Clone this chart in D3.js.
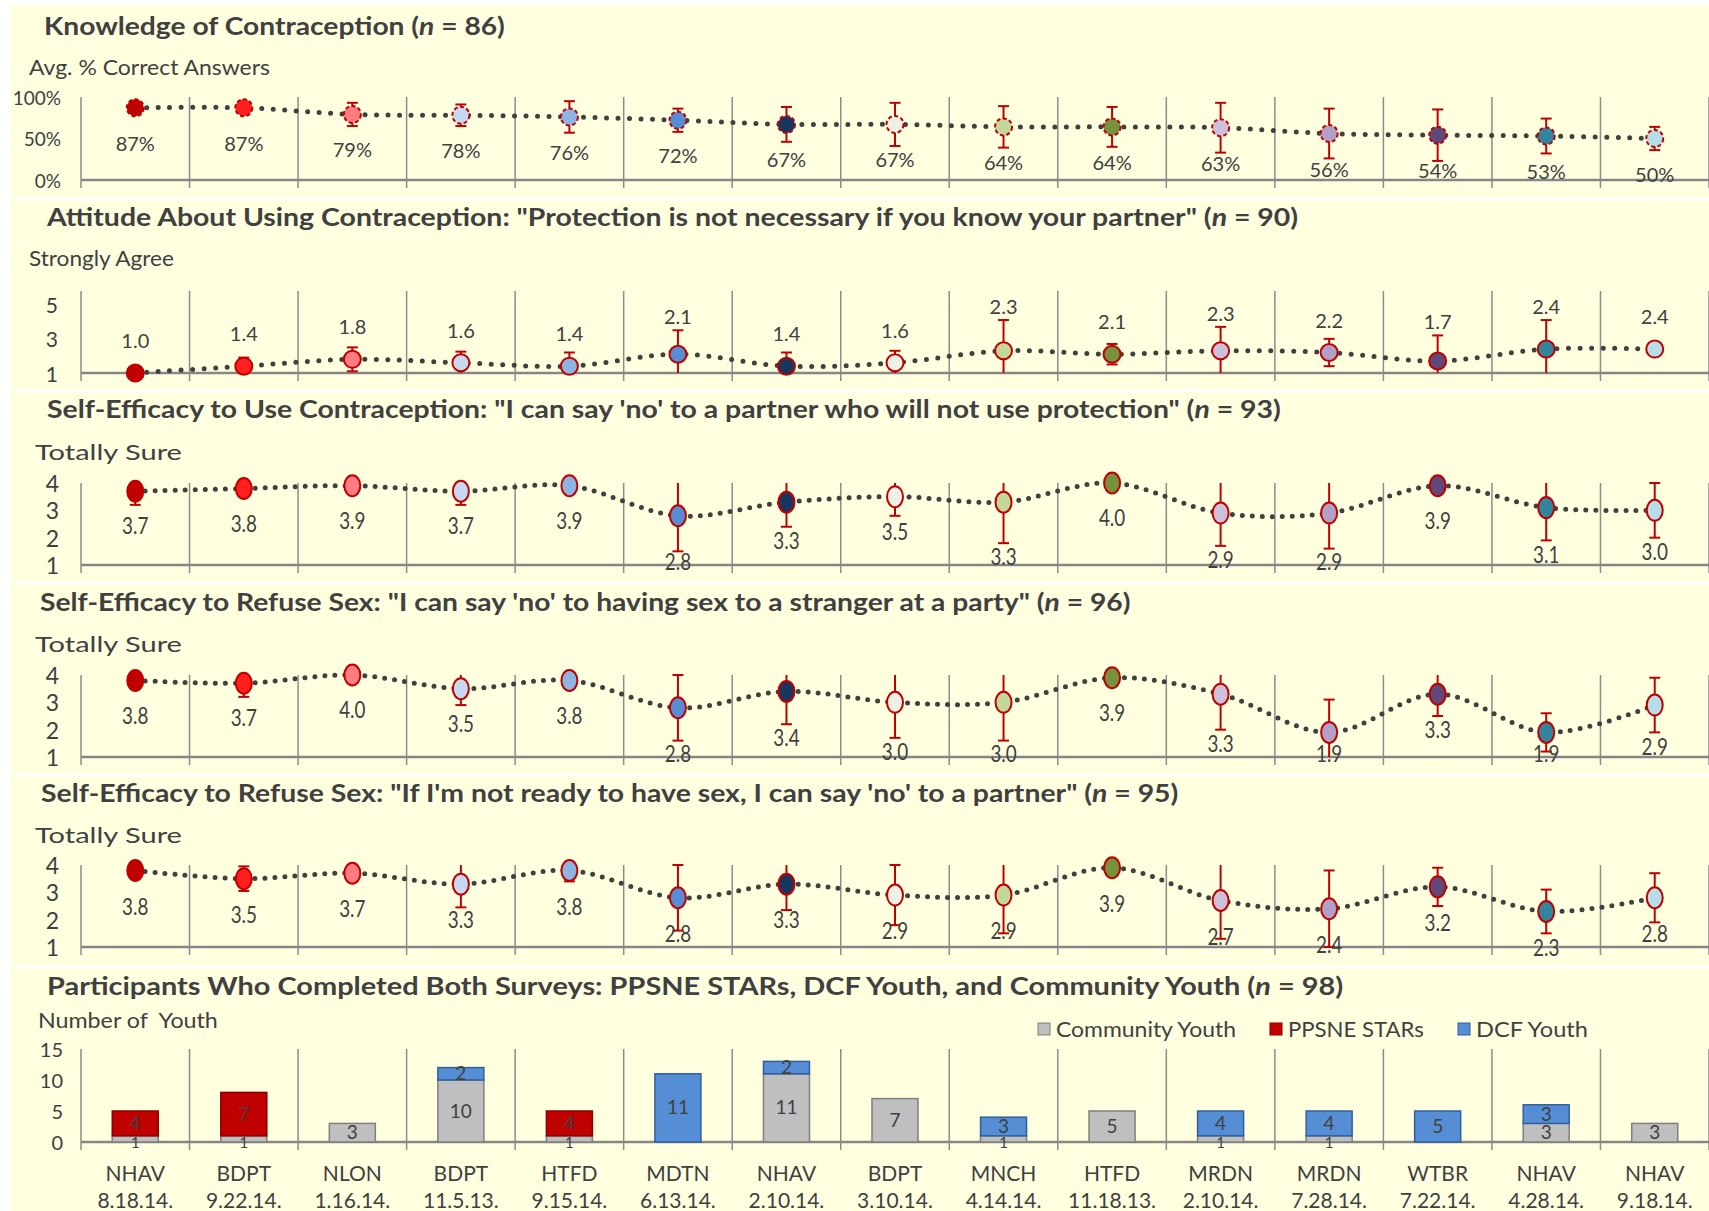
<!DOCTYPE html>
<html>
<head>
<meta charset="utf-8">
<script src="https://cdn.jsdelivr.net/npm/d3@7"></script>
<style>
body { margin: 0; background: #fff; }
svg text { font-family: Lato, 'Open Sans', sans-serif; fill: #404040; white-space: pre; }
</style>
</head>
<body>
<div id="chart"></div>
<script>
// categories
var sites = ['NHAV', 'BDPT', 'NLON', 'BDPT', 'HTFD', 'MDTN', 'NHAV', 'BDPT', 'MNCH', 'HTFD', 'MRDN', 'MRDN', 'WTBR', 'NHAV', 'NHAV'];
var dates = ['8.18.14.', '9.22.14.', '1.16.14.', '11.5.13.', '9.15.14.', '6.13.14.', '2.10.14.', '3.10.14.', '4.14.14.', '11.18.13.', '2.10.14.', '7.28.14.', '7.22.14.', '4.28.14.', '9.18.14.'];
var markerColors = ['#c00000', '#ff1f1f', '#ff7c80', '#c5d9f1', '#8db4e2', '#558ed5', '#17375e', '#eef0e6', '#c4d79b', '#76923c', '#ccc0da', '#b1a0c7', '#60497a', '#31859c', '#b7dee8'];

// series
var knowledgeAvg = [87, 87, 79, 78, 76, 72, 67, 67, 64, 64, 63, 56, 54, 53, 50];
var knowledgeErr = [0, 0, 14, 13, 19, 14, 21, 26, 25, 24, 30, 30, 31, 21, 14];
var attitudeAvg = [1.0, 1.4, 1.8, 1.6, 1.4, 2.1, 1.4, 1.6, 2.3, 2.1, 2.3, 2.2, 1.7, 2.4, 2.4];
var attitudeErr = [0, 0.5, 0.7, 0.65, 0.8, 1.4, 0.8, 0.7, 1.8, 0.6, 1.4, 0.8, 1.5, 1.7, 0];
var protectAvg = [3.7, 3.8, 3.9, 3.7, 3.9, 2.8, 3.3, 3.5, 3.3, 4.0, 2.9, 2.9, 3.9, 3.1, 3.0];
var protectErr = [0.5, 0.2, 0.1, 0.5, 0.1, 1.3, 0.9, 0.7, 1.5, 0, 1.2, 1.3, 0.25, 1.2, 1.0];
var strangerAvg = [3.8, 3.7, 4.0, 3.5, 3.8, 2.8, 3.4, 3.0, 3.0, 3.9, 3.3, 1.9, 3.3, 1.9, 2.9];
var strangerErr = [0.25, 0.5, 0, 0.6, 0.25, 1.2, 1.2, 1.3, 1.4, 0.25, 1.3, 1.2, 0.8, 0.7, 1.0];
var notReadyAvg = [3.8, 3.5, 3.7, 3.3, 3.8, 2.8, 3.3, 2.9, 2.9, 3.9, 2.7, 2.4, 3.2, 2.3, 2.8];
var notReadyErr = [0, 0.45, 0.3, 0.85, 0.4, 1.2, 0.95, 1.1, 1.4, 0, 1.4, 1.4, 0.7, 0.8, 0.9];
var communityYouth = [1, 1, 3, 10, 1, 0, 11, 7, 1, 5, 1, 1, 0, 3, 3];
var ppsneStars = [4, 7, 0, 0, 4, 0, 0, 0, 0, 0, 0, 0, 0, 0, 0];
var dcfYouth = [0, 0, 0, 2, 0, 11, 2, 0, 3, 0, 4, 4, 5, 3, 0];
var groupNames = ['Community Youth', 'PPSNE STARs', 'DCF Youth'];

var width = 1709, height = 1211;
var red = '#c00000', dark = '#404040', grid = '#8c8c8c';

var svg = d3.select('#chart').append('svg')
    .attr('width', width)
    .attr('height', height);

// yellow panels
var bands = [[5, 197], [200, 389], [392, 581], [584, 773], [776, 965], [968, 1211]];
svg.selectAll('.panel').data(bands).enter().append('rect')
    .attr('x', 10).attr('y', function(d) { return d[0]; })
    .attr('width', width - 10).attr('height', function(d) { return d[1] - d[0]; })
    .style('fill', '#ffffe0');

var x = d3.scaleBand().domain(d3.range(sites.length)).range([81, 1709]);
function cx(i) { return x(i) + x.bandwidth() / 2; }
function edge(i) { return x.range()[0] + i * x.step(); }

function fit(sel, w) {
    var x0 = +sel.attr('x');
    var len = sel.node().getBBox().width;
    sel.attr('transform', 'translate(' + x0 + ',0) scale(' + (w / len) + ',1) translate(' + (-x0) + ',0)');
}

function title(before, n, y, x0, w) {
    var t = svg.append('text').attr('x', x0).attr('y', y)
        .style('font-size', '24.5px').style('font-weight', 'bold');
    t.append('tspan').text(before + '(');
    t.append('tspan').style('font-style', 'italic').text('n');
    t.append('tspan').text(' = ' + n + ')');
    fit(t, w);
}

function subtitle(txt, y, x0, w) {
    var t = svg.append('text').attr('x', x0).attr('y', y)
        .style('font-size', '21px').text(txt);
    fit(t, w);
}

function linePanel(p) {
    var y = d3.scaleLinear().domain(p.domain).range(p.range);
    var g = svg.append('g');
    var dmin = p.domain[0], dmax = p.domain[1];

    g.selectAll('.grid').data(d3.range(sites.length + 1)).enter().append('line')
        .attr('x1', edge).attr('x2', edge)
        .attr('y1', y(dmax)).attr('y2', y(dmin) + 8)
        .style('stroke', grid).style('stroke-width', 1.5);
    g.append('line')
        .attr('x1', edge(0)).attr('x2', edge(sites.length))
        .attr('y1', y(dmin)).attr('y2', y(dmin))
        .style('stroke', '#868686').style('stroke-width', 2.5);

    g.selectAll('.tick').data(p.ticks).enter().append('text')
        .attr('x', p.tickX).attr('y', function(d) { return y(d); })
        .attr('text-anchor', 'end').attr('dominant-baseline', 'central')
        .style('font-size', p.tickSize)
        .text(p.tickFmt);

    var line = d3.line()
        .x(function(d, i) { return cx(i); })
        .y(function(d) { return y(d); })
        .curve(d3.curveCatmullRom.alpha(0));
    g.append('path').datum(p.avg)
        .attr('d', line)
        .style('fill', 'none').style('stroke', dark)
        .style('stroke-width', 5).style('stroke-linecap', 'round')
        .style('stroke-dasharray', p.dots);

    // error bars, clipped at the axis limits
    p.avg.forEach(function(v, i) {
        var e = p.err[i];
        if (!e) return;
        var lo = Math.max(v - e, dmin), hi = Math.min(v + e, dmax);
        g.append('line').attr('x1', cx(i)).attr('x2', cx(i))
            .attr('y1', y(lo)).attr('y2', y(hi))
            .style('stroke', red).style('stroke-width', 2);
        if (v + e <= dmax) {
            g.append('line').attr('x1', cx(i) - 5.5).attr('x2', cx(i) + 5.5)
                .attr('y1', y(hi)).attr('y2', y(hi))
                .style('stroke', red).style('stroke-width', 2);
        }
        if (v - e >= dmin) {
            g.append('line').attr('x1', cx(i) - 5.5).attr('x2', cx(i) + 5.5)
                .attr('y1', y(lo)).attr('y2', y(lo))
                .style('stroke', red).style('stroke-width', 2);
        }
    });

    g.selectAll('.mark').data(p.avg).enter().append('ellipse')
        .attr('cx', function(d, i) { return cx(i); })
        .attr('cy', function(d) { return y(d); })
        .attr('rx', p.rx).attr('ry', p.ry)
        .style('fill', function(d, i) { return markerColors[i]; })
        .style('stroke', red).style('stroke-width', 2)
        .style('stroke-dasharray', p.dashed ? '4 2.5' : null);

    g.selectAll('.val').data(p.avg).enter().append('text')
        .attr('transform', function(d, i) {
            return 'translate(' + cx(i) + ',' + p.labelY(d, p.err[i], y) + ') scale(' + p.squeeze + ',1)';
        })
        .attr('text-anchor', 'middle').attr('dominant-baseline', 'central')
        .style('font-size', p.valSize)
        .text(p.valFmt);
}

// panel 1
title('Knowledge of Contraception ', 86, 35, 44, 461);
subtitle('Avg. % Correct Answers', 75, 29, 241);
linePanel({
    avg: knowledgeAvg, err: knowledgeErr, domain: [0, 100], range: [180, 97],
    ticks: [0, 50, 100], tickFmt: function(d) { return d + '%'; }, tickX: 61, tickSize: '19px',
    dots: '0 11.5', rx: 8.5, ry: 8.5, dashed: true, squeeze: 1, valSize: '20px',
    valFmt: function(d) { return d + '%'; },
    labelY: function(v, e, y) { return y(v) + 35; }
});

// panel 2
title('Attitude About Using Contraception: "Protection is not necessary if you know your partner" ', 90, 226, 47, 1253);
subtitle('Strongly Agree', 266, 29, 145);
linePanel({
    avg: attitudeAvg, err: attitudeErr, domain: [1, 5.8], range: [373, 291],
    ticks: [1, 3, 5], tickFmt: function(d) { return d; }, tickX: 58, tickSize: '21px',
    dots: '0 11.5', rx: 8.5, ry: 8.5, dashed: false, squeeze: 1, valSize: '20px',
    valFmt: function(d) { return d.toFixed(1); },
    labelY: function(v, e, y) { return Math.min(y(v) - 33, y(Math.min(v + e, 5.8)) - 14); }
});

// labels under the point, pushed below the error bar but kept at the axis
var lowerLabel = function(v, e, y) {
    return Math.min(Math.max(y(v) + 34, y(Math.max(v - e, 1)) + 13), y(1) - 4);
};

// panel 3
title('Self-Efficacy to Use Contraception: "I can say \'no\' to a partner who will not use protection" ', 93, 418, 47, 1234);
subtitle('Totally Sure', 460, 35, 147);
linePanel({
    avg: protectAvg, err: protectErr, domain: [1, 4], range: [565, 483],
    ticks: [1, 2, 3, 4], tickFmt: function(d) { return d; }, tickX: 59, tickSize: '23px',
    dots: '0 10', rx: 8, ry: 10.5, dashed: false, squeeze: 0.82, valSize: '23px',
    valFmt: function(d) { return d.toFixed(1); },
    labelY: lowerLabel
});

// panel 4
title('Self-Efficacy to Refuse Sex: "I can say \'no\' to having sex to a stranger at a party" ', 96, 611, 40, 1091);
subtitle('Totally Sure', 652, 35, 147);
linePanel({
    avg: strangerAvg, err: strangerErr, domain: [1, 4], range: [757, 675],
    ticks: [1, 2, 3, 4], tickFmt: function(d) { return d; }, tickX: 59, tickSize: '23px',
    dots: '0 10', rx: 8, ry: 10.5, dashed: false, squeeze: 0.82, valSize: '23px',
    valFmt: function(d) { return d.toFixed(1); },
    labelY: lowerLabel
});

// panel 5
title('Self-Efficacy to Refuse Sex: "If I\'m not ready to have sex, I can say \'no\' to a partner" ', 95, 802, 41, 1138);
subtitle('Totally Sure', 843, 35, 147);
linePanel({
    avg: notReadyAvg, err: notReadyErr, domain: [1, 4], range: [947, 865],
    ticks: [1, 2, 3, 4], tickFmt: function(d) { return d; }, tickX: 59, tickSize: '23px',
    dots: '0 10', rx: 8, ry: 10.5, dashed: false, squeeze: 0.82, valSize: '23px',
    valFmt: function(d) { return d.toFixed(1); },
    labelY: function(v, e, y) { return y(v) + 35; }
});

// panel 6 - stacked bars
title('Participants Who Completed Both Surveys: PPSNE STARs, DCF Youth, and Community Youth ', 98, 995, 47, 1297);
subtitle('Number of  Youth', 1028, 38, 180);

var yb = d3.scaleLinear().domain([0, 15]).range([1142, 1049]);
var gb = svg.append('g');
gb.selectAll('.grid').data(d3.range(sites.length + 1)).enter().append('line')
    .attr('x1', edge).attr('x2', edge)
    .attr('y1', yb(15)).attr('y2', yb(0) + 8)
    .style('stroke', grid).style('stroke-width', 1.5);
gb.append('line')
    .attr('x1', edge(0)).attr('x2', edge(sites.length))
    .attr('y1', yb(0)).attr('y2', yb(0))
    .style('stroke', '#868686').style('stroke-width', 2.5);
gb.selectAll('.tick').data([0, 5, 10, 15]).enter().append('text')
    .attr('x', 63).attr('y', function(d) { return yb(d); })
    .attr('text-anchor', 'end').attr('dominant-baseline', 'central')
    .style('font-size', '20px')
    .text(function(d) { return d; });

var table = sites.map(function(s, i) {
    return { i: i, c: communityYouth[i], p: ppsneStars[i], d: dcfYouth[i] };
});
var stack = d3.stack().keys(['c', 'p', 'd'])(table);
var fills = ['#bfbfbf', '#c00000', '#558ed5'];
var strokes = ['#7f7f7f', '#8b0000', '#2f5f9f'];
var bw = 46;
stack.forEach(function(layer, k) {
    gb.selectAll('.bar' + k).data(layer.filter(function(d) { return d[1] > d[0]; })).enter().append('rect')
        .attr('x', function(d) { return cx(d.data.i) - bw / 2; })
        .attr('y', function(d) { return yb(d[1]); })
        .attr('width', bw)
        .attr('height', function(d) { return yb(d[0]) - yb(d[1]); })
        .style('fill', fills[k]).style('stroke', strokes[k]).style('stroke-width', 1.5);
});
// segment labels; the thin one-youth slices get a smaller label nearer the axis
stack.forEach(function(layer, k) {
    gb.selectAll('.lab' + k).data(layer.filter(function(d) { return d[1] > d[0]; })).enter().append('text')
        .attr('x', function(d) { return cx(d.data.i); })
        .attr('y', function(d) {
            var mid = yb((d[0] + d[1]) / 2);
            return (d[1] - d[0] < 2) ? mid + 3 : mid - 1;
        })
        .attr('text-anchor', 'middle').attr('dominant-baseline', 'central')
        .style('font-size', function(d) { return (d[1] - d[0] < 2) ? '15px' : '19px'; })
        .text(function(d) { return d[1] - d[0]; });
});

// legend
var legendX = [1038, 1270, 1458];
var legendW = [180, 136, 112];
groupNames.forEach(function(name, k) {
    gb.append('rect').attr('x', legendX[k]).attr('y', 1023).attr('width', 12).attr('height', 12)
        .style('fill', fills[k]).style('stroke', strokes[k]);
    var t = gb.append('text').attr('x', legendX[k] + 18).attr('y', 1029)
        .attr('dominant-baseline', 'central').style('font-size', '21px').text(name);
    fit(t, legendW[k]);
});

// x labels
gb.selectAll('.site').data(sites).enter().append('text')
    .attr('x', function(d, i) { return cx(i); }).attr('y', 1172)
    .attr('text-anchor', 'middle').attr('dominant-baseline', 'central')
    .style('font-size', '21px').text(function(d) { return d; });
gb.selectAll('.date').data(dates).enter().append('text')
    .attr('x', function(d, i) { return cx(i); }).attr('y', 1199)
    .attr('text-anchor', 'middle').attr('dominant-baseline', 'central')
    .style('font-size', '21px').text(function(d) { return d; });
</script>
</body>
</html>
